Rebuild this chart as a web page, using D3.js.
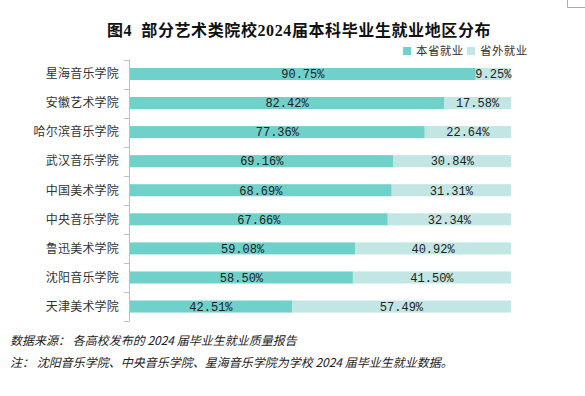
<!DOCTYPE html>
<html>
<head>
<meta charset="utf-8">
<script src="https://cdn.jsdelivr.net/npm/d3@7/dist/d3.min.js"></script>
<style>
  html, body { margin: 0; padding: 0; background: #fff; }
  svg { display: block; }
</style>
</head>
<body>
<svg id="chart" width="585" height="396"></svg>
<script>
// data
const schools = ['星海音乐学院', '安徽艺术学院', '哈尔滨音乐学院', '武汉音乐学院',
  '中国美术学院', '中央音乐学院', '鲁迅美术学院', '沈阳音乐学院', '天津美术学院'];
const inProvince = [90.75, 82.42, 77.36, 69.16, 68.69, 67.66, 59.08, 58.50, 42.51];
const outProvince = [9.25, 17.58, 22.64, 30.84, 31.31, 32.34, 40.92, 41.50, 57.49];
const seriesNames = ['本省就业', '省外就业'];
const seriesColors = ['#70d0ca', '#c2e6e3'];

const titleText = '图4  部分艺术类院校2024届本科毕业生就业地区分布';
const notes = [
  '数据来源： 各高校发布的 2024 届毕业生就业质量报告',
  '注： 沈阳音乐学院、中央音乐学院、星海音乐学院为学校 2024 届毕业生就业数据。',
];

const cjk = '"Noto Sans CJK SC", "Noto Sans", sans-serif';
const serif = '"Liberation Serif", "Noto Sans CJK SC", serif';
const mono = '"Liberation Mono", "DejaVu Sans Mono", monospace';

const svg = d3.select('#chart');

const x = d3.scaleLinear().domain([0, 100]).range([130, 511]);
const y = d3.scaleBand().domain(schools).range([59.5, 321]).paddingInner(0.585).paddingOuter(0.29);

// stack the two series
const rows = schools.map((s, i) => ({school: s, a: inProvince[i], b: outProvince[i]}));
const stacked = d3.stack().keys(['a', 'b'])(rows);

// little frame corner at the top right
svg.append('path')
    .attr('d', 'M567.5,0V7.5H585')
    .attr('fill', 'none')
    .attr('stroke', '#aaa');

// title
svg.append('text')
    .attr('x', 299)
    .attr('y', 36)
    .attr('text-anchor', 'middle')
    .attr('font-family', serif)
    .attr('font-weight', 'bold')
    .attr('font-size', 16)
    .attr('letter-spacing', 0.6)
    .style('white-space', 'pre')
    .attr('fill', '#111')
    .text(titleText);

// legend
const legend = svg.append('g')
    .attr('font-family', cjk)
    .attr('font-size', 11.5)
    .attr('fill', '#333');
const legendX = [403, 467];
seriesNames.forEach((name, i) => {
  legend.append('rect')
      .attr('x', legendX[i])
      .attr('y', 47)
      .attr('width', 8)
      .attr('height', 8)
      .attr('fill', seriesColors[i]);
  legend.append('text')
      .attr('x', legendX[i] + 13)
      .attr('y', 55)
      .attr('letter-spacing', 0.4)
      .text(name);
});

// bars
const layers = svg.append('g')
    .selectAll('g')
    .data(stacked)
    .join('g')
    .attr('fill', (d, i) => seriesColors[i]);

layers.selectAll('rect')
    .data((d) => d)
    .join('rect')
    .attr('x', (d) => x(d[0]))
    .attr('y', (d) => y(d.data.school))
    .attr('width', (d) => x(d[1]) - x(d[0]))
    .attr('height', y.bandwidth());

// value labels centred in each segment
layers.selectAll('text')
    .data((d) => d)
    .join('text')
    .attr('x', (d) => (x(d[0]) + x(d[1])) / 2)
    .attr('y', (d) => y(d.data.school) + y.bandwidth() / 2)
    .attr('dy', '0.36em')
    .attr('text-anchor', 'middle')
    .attr('font-family', mono)
    .attr('font-size', 12)
    .attr('fill', '#222')
    .text((d) => (d[1] - d[0]).toFixed(2) + '%');

// category axis with ticks between bands
const axis = svg.append('g');
axis.append('line')
    .attr('x1', 129.5).attr('x2', 129.5)
    .attr('y1', y.range()[0]).attr('y2', y.range()[1])
    .attr('stroke', '#bfbfbf');
const step = y.step();
axis.selectAll('line.tick')
    .data(d3.range(schools.length + 1))
    .join('line')
    .attr('class', 'tick')
    .attr('x1', 124).attr('x2', 129.5)
    .attr('y1', (i) => Math.round(y.range()[0] + i * step) + 0.5)
    .attr('y2', (i) => Math.round(y.range()[0] + i * step) + 0.5)
    .attr('stroke', '#bfbfbf');
axis.selectAll('text')
    .data(schools)
    .join('text')
    .attr('x', 119)
    .attr('y', (d) => y(d) + y.bandwidth() / 2)
    .attr('dy', '0.36em')
    .attr('text-anchor', 'end')
    .attr('font-family', cjk)
    .attr('font-size', 12)
    .attr('letter-spacing', 0.2)
    .attr('fill', '#333')
    .text((d) => d);

// source notes
svg.append('g')
    .attr('font-family', cjk)
    .attr('font-size', 12)
    .attr('font-style', 'italic')
    .attr('fill', '#222')
    .style('white-space', 'pre')
    .selectAll('text')
    .data(notes)
    .join('text')
    .attr('x', 10)
    .attr('y', (d, i) => 345 + i * 22)
    .text((d) => d);
</script>
</body>
</html>
